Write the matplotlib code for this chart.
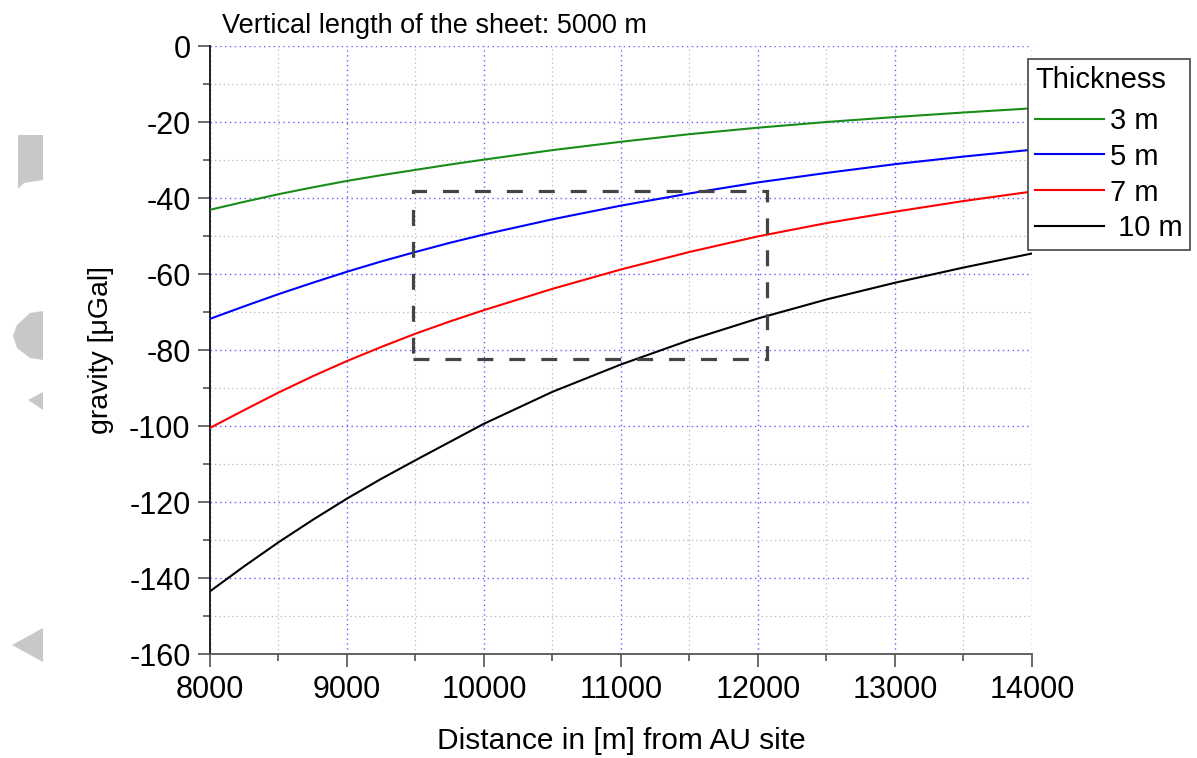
import matplotlib
matplotlib.use("Agg")
import matplotlib.pyplot as plt
from matplotlib.patches import Rectangle, Polygon
from matplotlib.ticker import MultipleLocator

plt.rcParams['font.family'] = ['Liberation Sans', 'DejaVu Sans']
plt.rcParams['axes.unicode_minus'] = False

# ---- data ----
distance = [8000, 8250, 8500, 8750, 9000, 9250, 9500, 9750, 10000,
            10500, 11000, 11500, 12000, 12500, 13000, 13500, 14000]
g_3m = [-43.1, -41.0, -39.0, -37.2, -35.5, -34.0, -32.6, -31.2, -29.9,
        -27.4, -25.2, -23.2, -21.5, -20.0, -18.7, -17.5, -16.4]
g_5m = [-71.8, -68.5, -65.3, -62.3, -59.4, -56.7, -54.2, -51.8, -49.6,
        -45.6, -42.0, -38.8, -35.9, -33.4, -31.1, -29.1, -27.3]
g_7m = [-100.5, -95.8, -91.2, -86.9, -82.9, -79.2, -75.7, -72.5, -69.5,
        -63.9, -58.8, -54.2, -50.1, -46.6, -43.6, -40.8, -38.3]
g_10m = [-143.5, -136.9, -130.6, -124.7, -119.1, -113.9, -109.0, -104.2, -99.4,
         -91.0, -83.8, -77.4, -71.7, -66.7, -62.3, -58.3, -54.6]
series_labels = ["3 m", "5 m", "7 m", " 10 m"]
series_colors = ["#1a8c1a", "#0000ff", "#ff0000", "#000000"]
box_x = [9480, 12065]
box_y = [-82.4, -38.2]

W, H = 1197, 758
fig = plt.figure(figsize=(W / 100, H / 100), dpi=100)
ax = fig.add_axes([210 / W, 1 - 654 / H, (1032 - 210) / W, (654 - 46) / H])

for vals, lab, col in zip([g_3m, g_5m, g_7m, g_10m], series_labels, series_colors):
    ax.plot(distance, vals, color=col, lw=1.5, label=lab, zorder=3)

rect = Rectangle((box_x[0], box_y[0]), box_x[1] - box_x[0], box_y[1] - box_y[0],
                 fill=False, edgecolor="#444444", lw=2.3, linestyle=(0, (5, 5)), zorder=4)
ax.add_patch(rect)

ax.set_xlim(8000, 14000)
ax.set_ylim(-160, 0)
ax.xaxis.set_major_locator(MultipleLocator(1000))
ax.xaxis.set_minor_locator(MultipleLocator(500))
ax.yaxis.set_major_locator(MultipleLocator(20))
ax.yaxis.set_minor_locator(MultipleLocator(10))

ax.grid(which='major', color='#6060ff', linestyle=(0, (1, 2.5)), lw=1.0)
ax.grid(which='minor', color='#b8b8b8', linestyle=(0, (1, 2.5)), lw=0.9)
ax.set_axisbelow(True)

for s in ['top', 'right']:
    ax.spines[s].set_visible(False)
ax.spines['left'].set_color('#111111')
ax.spines['bottom'].set_color('#555555')
ax.spines['left'].set_linewidth(1.3)
ax.spines['bottom'].set_linewidth(1.3)

ax.tick_params(which='major', direction='out', length=9, width=1.1, labelsize=22,
               colors='#444444', labelcolor='black')
ax.tick_params(axis='x', which='major', pad=6)
ax.tick_params(axis='y', which='major', pad=5)
ax.tick_params(which='minor', direction='out', length=5, width=1.1, colors='#444444')

ax.set_xlabel("Distance in [m] from AU site", fontsize=21.5, labelpad=16)
ax.set_ylabel("gravity [\u03bcGal]", fontsize=20.5, labelpad=11)

fig.text(222 / W, 1 - 26 / H, "Vertical length of the sheet: 5000 m", fontsize=19.5,
         ha='left', va='center')

leg = fig.legend(loc='upper left', bbox_to_anchor=(1028 / W, 1 - 59 / H), borderaxespad=0,
                 title="Thickness", fontsize=21, title_fontsize=21, fancybox=False,
                 edgecolor='#444444', framealpha=1, handlelength=2.35, handletextpad=0.2,
                 labelspacing=0.27, borderpad=0.25)
leg.get_frame().set_linewidth(1.2)
leg._legend_box.align = "left"
leg._legend_box.sep = 9

# grey fragments at the left edge
grey = "#c8c8c8"
shapes = [
    [(18, 135), (43, 135), (43, 180), (24, 183), (19, 188), (18, 188)],
    [(43, 311), (30, 313), (17, 325), (13, 336), (17, 348), (30, 358), (43, 360)],
    [(43, 392), (28, 400), (43, 410)],
    [(43, 628), (12, 645), (43, 662)],
]
for pts in shapes:
    fig.patches.append(Polygon([(px / W, 1 - py / H) for px, py in pts], closed=True,
                               transform=fig.transFigure, facecolor=grey, edgecolor='none'))

fig.savefig("out.png", dpi=100)
